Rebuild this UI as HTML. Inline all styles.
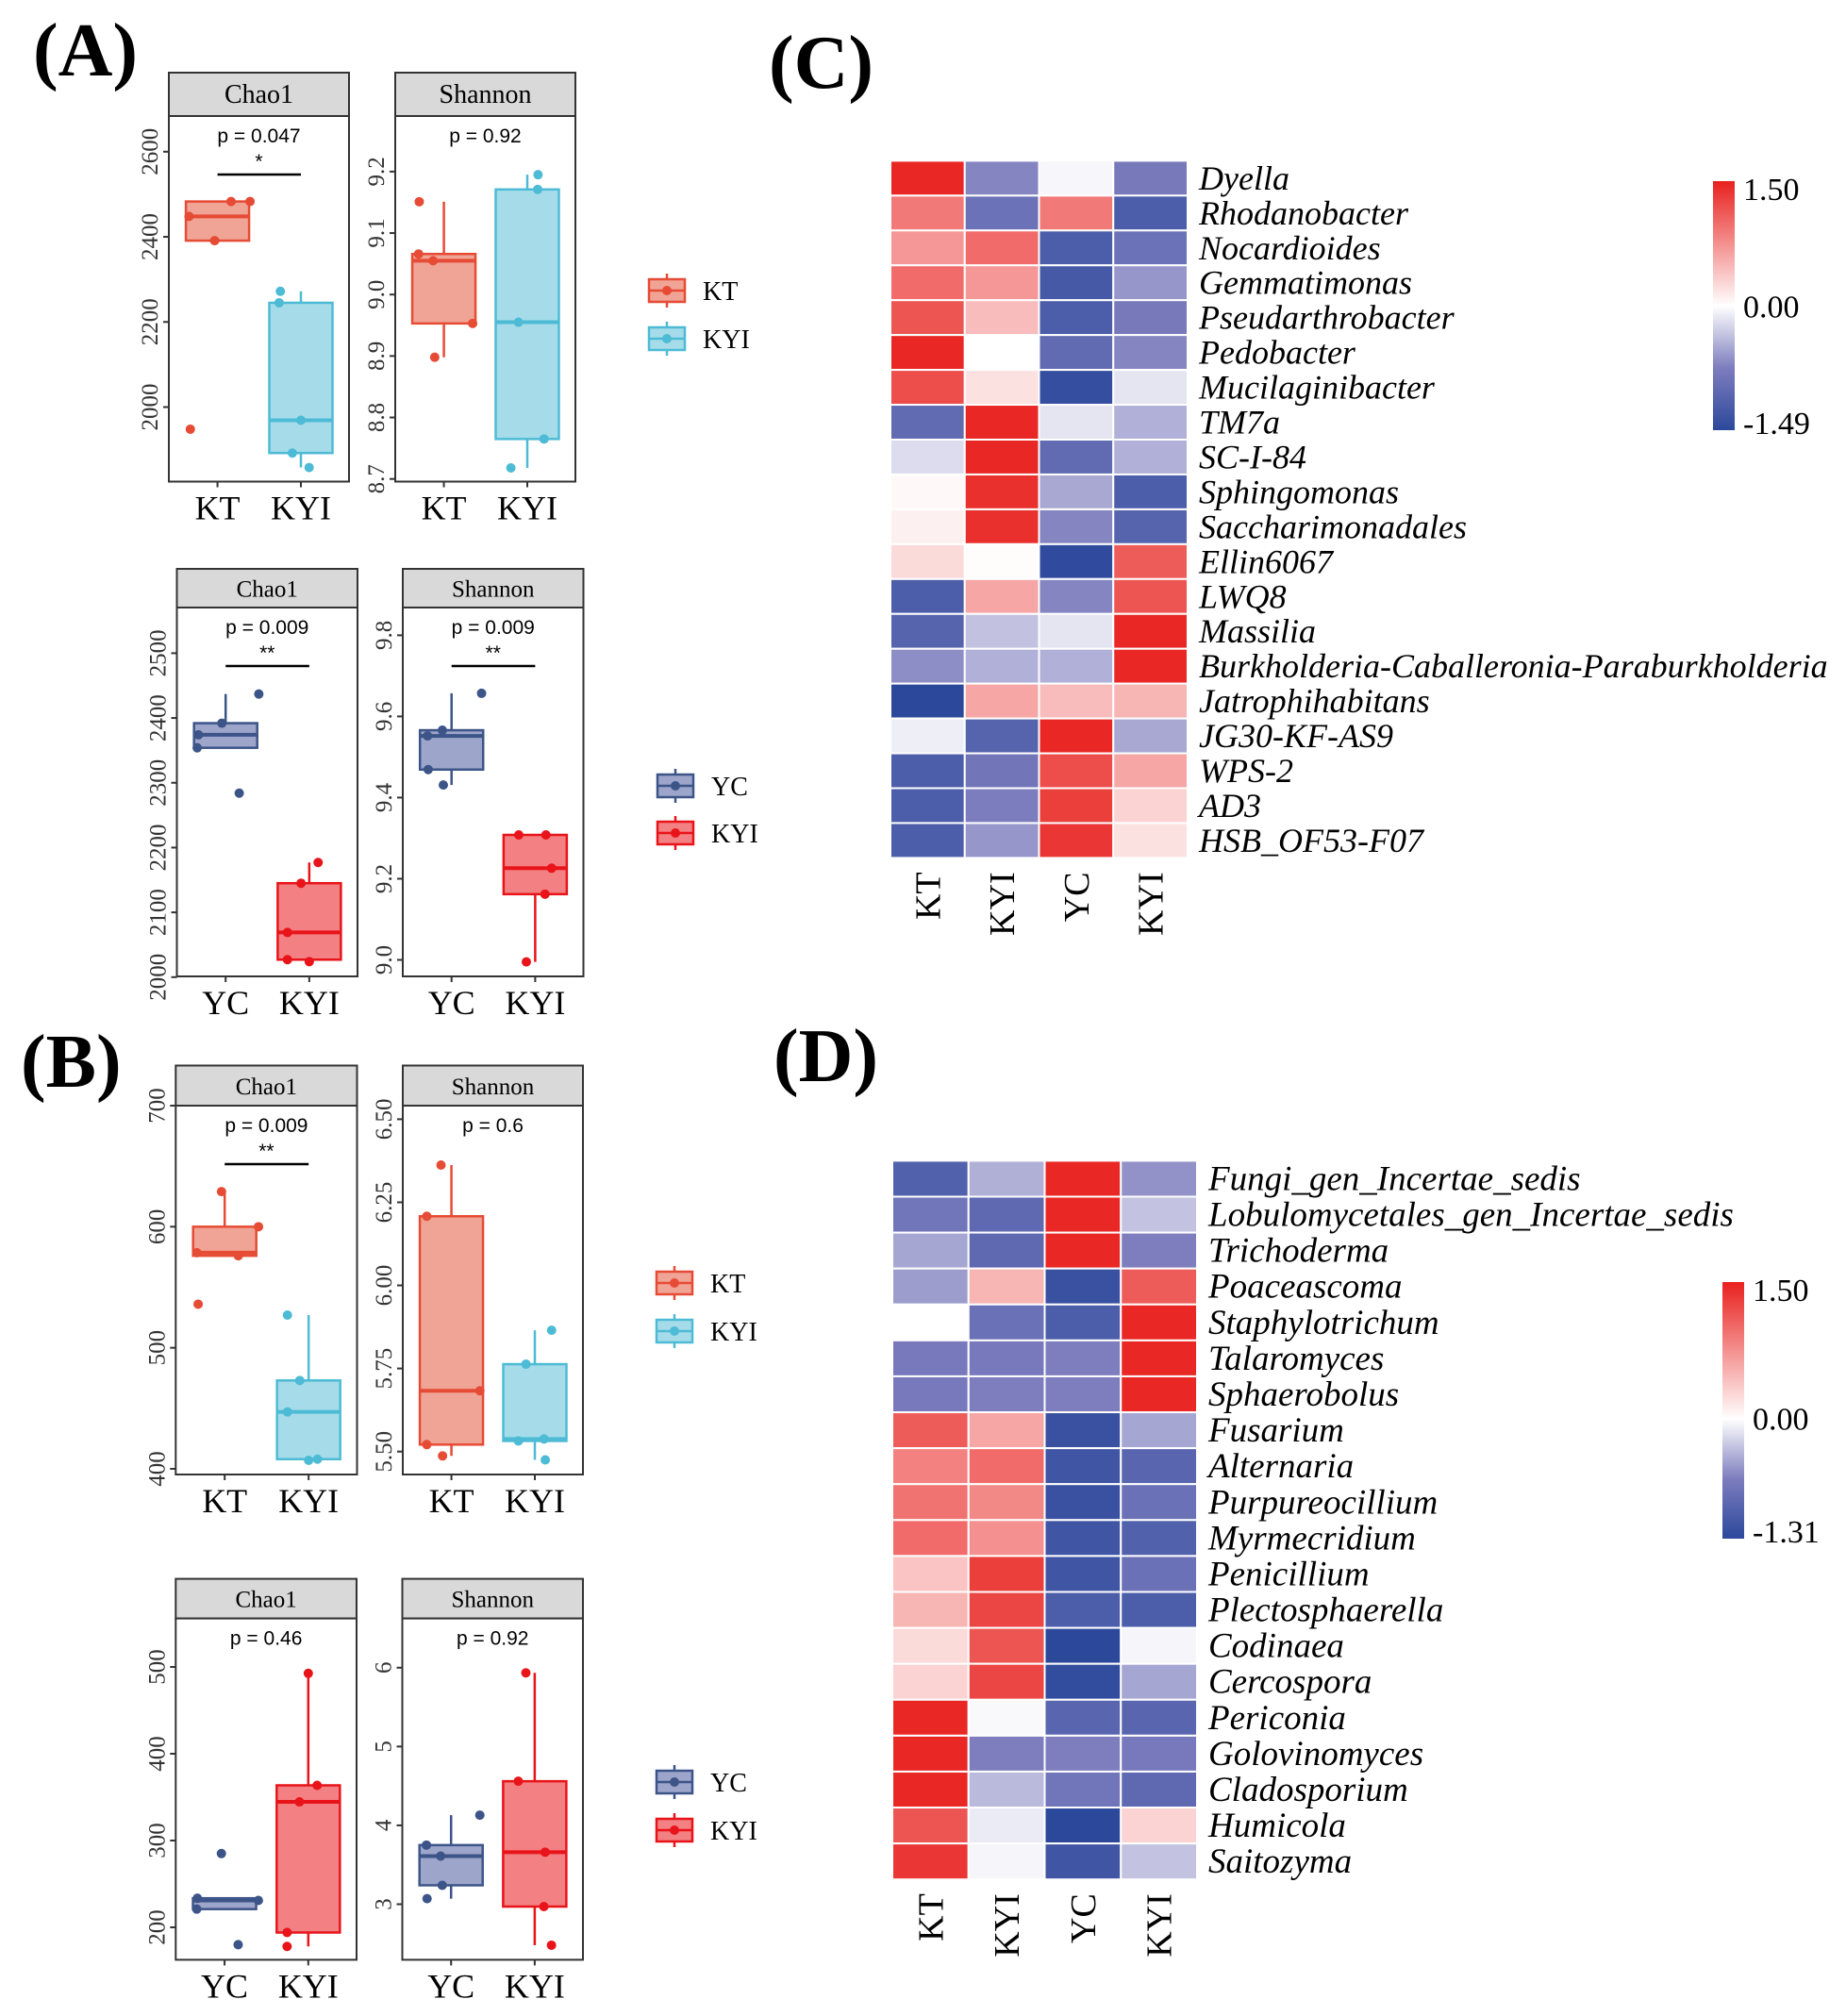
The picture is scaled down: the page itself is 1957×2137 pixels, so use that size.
<!DOCTYPE html>
<html><head><meta charset="utf-8"><style>
html,body{margin:0;padding:0;background:#fff;}
svg{display:block;}
</style></head><body>
<svg id="fig" xmlns="http://www.w3.org/2000/svg" width="1957" height="2137" viewBox="0 0 1957 2137">
<rect width="1957" height="2137" fill="#fff"/>
<g font-family="'Liberation Serif', serif" font-weight="bold" font-size="80" fill="#000">
<text x="35" y="80">(A)</text>
<text x="22" y="1152">(B)</text>
<text x="815" y="93">(C)</text>
<text x="820" y="1146">(D)</text>
</g>
<g id="boxes"></g>
<g id="heat"></g>
</svg>
<script>
// ---- Boxplot data (values, jitter) ----
const aTopChaoKT=[2448,2483,2483,2391,1948];
const aTopChaoKYI=[2272,2245,1969,1892,1858];
const aTopShKT=[9.151,9.066,9.055,8.953,8.898];
const aTopShKYI=[9.195,9.171,8.955,8.765,8.718];
const aBotChaoYC=[2437,2392,2374,2354,2284];
const aBotChaoKYI=[2177,2145,2069,2027,2024];
const aBotShYC=[9.657,9.566,9.552,9.469,9.431];
const aBotShKYI=[9.308,9.308,9.226,9.162,8.995];
const bTopChaoKT=[629,600,578.5,576,536];
const bTopChaoKYI=[527,473,447,407,408];
const bTopShKT=[6.362,6.208,5.683,5.521,5.487];
const bTopShKYI=[5.865,5.763,5.538,5.532,5.475];
const bBotChaoYC=[285,233.5,231,221,180];
const bBotChaoKYI=[492.6,363.6,344.5,194,178];
const bBotShYC=[4.13,3.75,3.61,3.24,3.07];
const bBotShKYI=[5.935,4.56,3.66,2.97,2.48];
const jitA=[-0.9,0.43,1.03,-0.09,-0.86], jitB=[-0.65,-0.69,0,-0.27,0.26];
const jitC=[-0.78,-0.8,-0.34,0.91,-0.29], jitD=[0.34,0.33,-0.28,0.53,-0.52];
const jitE=[1.05,-0.12,-0.86,-0.9,0.43], jitF=[0.28,-0.26,-0.69,-0.69,0];
const jitG=[0.95,-0.29,-0.76,-0.74,-0.26], jitH=[-0.52,0.34,0.52,0.31,-0.28];
const jitI=[-0.1,1.07,-0.88,0.43,-0.84], jitJ=[-0.67,-0.28,-0.67,0,0.28];
const jitK=[-0.33,-0.78,0.9,-0.78,-0.28], jitL=[0.53,-0.28,0.29,-0.52,0.33];
const jitM=[-0.1,-0.86,1.07,-0.88,0.43], jitN=[0,0.28,-0.28,-0.67,-0.67];
const jitO=[0.91,-0.78,-0.33,-0.28,-0.76], jitP=[-0.28,-0.52,0.33,0.29,0.53];
const ticksAChao1=[2000,2200,2400,2600], ticksASh1=[8.7,8.8,8.9,9.0,9.1,9.2];
const ticksAChao2=[2000,2100,2200,2300,2400,2500], ticksASh2=[9.0,9.2,9.4,9.6,9.8];
const ticksBChao1=[400,500,600,700], ticksBSh1=[5.5,5.75,6.0,6.25,6.5];
const ticksBChao2=[200,300,400,500], ticksBSh2=[3,4,5,6];

const NS="http://www.w3.org/2000/svg";
function mk(parent,tag,attrs,text){const e=document.createElementNS(NS,tag);for(const k in attrs)e.setAttribute(k,attrs[k]);if(text!==undefined)e.textContent=text;parent.appendChild(e);return e;}
const COL={KT:["#E64B35","#F0A496"],KYI1:["#4DBBD5","#A6DCE9"],YC:["#3C5488","#9DA5CA"],KYI2:["#E8141A","#F38082"]};
function q(s,p){const a=[...s].sort((x,y)=>x-y);const h=(a.length-1)*p,l=Math.floor(h);return a[l]+(a[Math.min(l+1,a.length-1)]-a[l])*(h-l);}
const boxes=document.getElementById('boxes');
function panel(cfg){
  const g=mk(boxes,'g',{});
  
  
  const x0=cfg.x0,x1=cfg.x1,w=x1-x0;
  const y=v=>cfg.r1y+(v-cfg.r1v)*(cfg.r2y-cfg.r1y)/(cfg.r2v-cfg.r1v);
  const strip=mk(g,'rect',{x:x0,y:cfg.st,width:w,height:cfg.sb-cfg.st,fill:'#D9D9D9',stroke:'#333','stroke-width':2});
  
  
  const st=mk(g,'text',{x:x0+w/2,y:cfg.sb-(cfg.sb-cfg.st)/2+9,'text-anchor':'middle','font-family':"'Liberation Serif', serif",'font-size':cfg.sf},cfg.title);
  
  
  mk(g,'rect',{x:x0,y:cfg.sb,width:w,height:cfg.pb-cfg.sb,fill:'#fff',stroke:'#333','stroke-width':2});
  cfg.ticks.forEach(t=>{
    const ty=y(t);
    mk(g,'line',{x1:x0-6,x2:x0,y1:ty,y2:ty,stroke:'#333','stroke-width':2});
    const tl=mk(g,'text',{transform:`translate(${x0-12},${ty}) rotate(-90)`,'text-anchor':'middle','font-family':"'Liberation Serif', serif",'font-size':25,fill:'#333'},cfg.fmt(t));
    
    
  });
  const cx=[x0+w*0.27,x0+w*0.733];
  const hw=33.5;
  cfg.groups.forEach((gr,i)=>{
    const d=gr.vals,c=COL[gr.col];
    const q1=q(d,0.25),md=q(d,0.5),q3=q(d,0.75),iqr=q3-q1;
    const ins=d.filter(v=>v>=q1-1.5*iqr&&v<=q3+1.5*iqr);
    const lo=Math.min(...ins),hi=Math.max(...ins);
    const bg=mk(g,'g',{});
    
    
    mk(bg,'line',{x1:cx[i],x2:cx[i],y1:y(hi),y2:y(q3),stroke:c[0],'stroke-width':2.5});
    mk(bg,'line',{x1:cx[i],x2:cx[i],y1:y(q1),y2:y(lo),stroke:c[0],'stroke-width':2.5});
    mk(bg,'rect',{x:cx[i]-hw,y:y(q3),width:2*hw,height:Math.max(1,y(q1)-y(q3)),fill:c[1],stroke:c[0],'stroke-width':2.5});
    mk(bg,'line',{x1:cx[i]-hw,x2:cx[i]+hw,y1:y(md),y2:y(md),stroke:c[0],'stroke-width':4});
    d.forEach((v,k)=>{
      const p=mk(bg,'circle',{cx:cx[i]+gr.jit[k]*hw,cy:y(v),r:5,fill:c[0]});
      
      
    });
    mk(g,'line',{x1:cx[i],x2:cx[i],y1:cfg.pb,y2:cfg.pb+6,stroke:'#333','stroke-width':2});
    const xl=mk(g,'text',{x:cx[i],y:cfg.pb+40,'text-anchor':'middle','font-family':"'Liberation Serif', serif",'font-size':36},gr.label);
    
    
  });
  const pt=mk(g,'text',{x:x0+w/2,y:cfg.sb+28,'text-anchor':'middle','font-family':"'Liberation Sans', sans-serif",'font-size':21},cfg.p);
  
  
  if(cfg.star){
    const s=mk(g,'text',{x:x0+w/2,y:cfg.sb+55,'text-anchor':'middle','font-family':"'Liberation Sans', sans-serif",'font-size':21},cfg.star);
    
    
    mk(g,'line',{x1:cx[0],x2:cx[1],y1:cfg.sb+62,y2:cfg.sb+62,stroke:'#000','stroke-width':2.5});
  }
}
function legend(x,y1,y2,k1,k2,l1,l2,name){
  const g=mk(boxes,'g',{});
  
  
  [[y1,k1,l1],[y2,k2,l2]].forEach(([yy,k,l])=>{
    const c=COL[k];
    const e=mk(g,'g',{});
    
    
    mk(e,'line',{x1:x+19,x2:x+19,y1:yy-18,y2:yy+18,stroke:c[0],'stroke-width':2.5});
    mk(e,'rect',{x:x,y:yy-12,width:38,height:24,fill:c[1],stroke:c[0],'stroke-width':2.5});
    mk(e,'line',{x1:x,x2:x+38,y1:yy,y2:yy,stroke:c[0],'stroke-width':2.5});
    mk(e,'circle',{cx:x+19,cy:yy,r:5,fill:c[0]});
    mk(e,'text',{x:x+57,y:yy+10,'font-family':"'Liberation Serif', serif",'font-size':28},l);
  });
}
const f0=v=>String(v), f1=v=>v.toFixed(1), f2=v=>v.toFixed(2);
panel({name:'a-chao1-kt-kyi',x0:179,x1:370,st:77,sb:123,pb:510.5,r1v:2600,r1y:160.8,r2v:2000,r2y:431.5,ticks:ticksAChao1,fmt:f0,title:'Chao1',sf:28,p:'p = 0.047',star:'*',groups:[{label:'KT',col:'KT',vals:aTopChaoKT,jit:jitA},{label:'KYI',col:'KYI1',vals:aTopChaoKYI,jit:jitB}]});
panel({name:'a-shannon-kt-kyi',x0:419,x1:610,st:77,sb:123,pb:510.5,r1v:9.2,r1y:181.9,r2v:8.7,r2y:507.7,ticks:ticksASh1,fmt:f1,title:'Shannon',sf:28,p:'p = 0.92',groups:[{label:'KT',col:'KT',vals:aTopShKT,jit:jitC},{label:'KYI',col:'KYI1',vals:aTopShKYI,jit:jitD}]});
legend(688,308,359,'KT','KYI1','KT','KYI','legend-a-top');
panel({name:'a-chao1-yc-kyi',x0:187.5,x1:379,st:603,sb:644,pb:1035,r1v:2500,r1y:692.4,r2v:2000,r2y:1035.8,ticks:ticksAChao2,fmt:f0,title:'Chao1',sf:25,p:'p = 0.009',star:'**',groups:[{label:'YC',col:'YC',vals:aBotChaoYC,jit:jitE},{label:'KYI',col:'KYI2',vals:aBotChaoKYI,jit:jitF}]});
panel({name:'a-shannon-yc-kyi',x0:427,x1:618.5,st:603,sb:644,pb:1035,r1v:9.8,r1y:673.4,r2v:9.0,r2y:1017.5,ticks:ticksASh2,fmt:f1,title:'Shannon',sf:25,p:'p = 0.009',star:'**',groups:[{label:'YC',col:'YC',vals:aBotShYC,jit:jitG},{label:'KYI',col:'KYI2',vals:aBotShKYI,jit:jitH}]});
legend(697,833,883,'YC','KYI2','YC','KYI','legend-a-bottom');
panel({name:'b-chao1-kt-kyi',x0:186.3,x1:378.5,st:1129.5,sb:1172,pb:1563,r1v:700,r1y:1172,r2v:400,r2y:1557,ticks:ticksBChao1,fmt:f0,title:'Chao1',sf:25,p:'p = 0.009',star:'**',groups:[{label:'KT',col:'KT',vals:bTopChaoKT,jit:jitI},{label:'KYI',col:'KYI1',vals:bTopChaoKYI,jit:jitJ}]});
panel({name:'b-shannon-kt-kyi',x0:427,x1:618,st:1129.5,sb:1172,pb:1563,r1v:6.5,r1y:1186.4,r2v:5.5,r2y:1538.7,ticks:ticksBSh1,fmt:f2,title:'Shannon',sf:25,p:'p = 0.6',groups:[{label:'KT',col:'KT',vals:bTopShKT,jit:jitK},{label:'KYI',col:'KYI1',vals:bTopShKYI,jit:jitL}]});
legend(696,1360,1411,'KT','KYI1','KT','KYI','legend-b-top');
panel({name:'b-chao1-yc-kyi',x0:186.3,x1:378,st:1673.6,sb:1715.6,pb:2077.4,r1v:500,r1y:1767,r2v:200,r2y:2043,ticks:ticksBChao2,fmt:f0,title:'Chao1',sf:25,p:'p = 0.46',groups:[{label:'YC',col:'YC',vals:bBotChaoYC,jit:jitM},{label:'KYI',col:'KYI2',vals:bBotChaoKYI,jit:jitN}]});
panel({name:'b-shannon-yc-kyi',x0:426.5,x1:618,st:1673.6,sb:1715.6,pb:2077.4,r1v:6,r1y:1767.8,r2v:3,r2y:2018.5,ticks:ticksBSh2,fmt:f0,title:'Shannon',sf:25,p:'p = 0.92',groups:[{label:'YC',col:'YC',vals:bBotShYC,jit:jitO},{label:'KYI',col:'KYI2',vals:bBotShKYI,jit:jitP}]});
legend(696,1889,1940,'YC','KYI2','YC','KYI','legend-b-bottom');

// ---- Heatmap data ----
const heatCols=['KT','KYI','YC','KYI'];
const cRows=['Dyella','Rhodanobacter','Nocardioides','Gemmatimonas','Pseudarthrobacter','Pedobacter','Mucilaginibacter','TM7a','SC-I-84','Sphingomonas','Saccharimonadales','Ellin6067','LWQ8','Massilia','Burkholderia-Caballeronia-Paraburkholderia','Jatrophihabitans','JG30-KF-AS9','WPS-2','AD3','HSB_OF53-F07'];
const cKT=[1.45,0.9,0.7,1.0,1.15,1.45,1.2,-1.0,-0.2,0.05,0.1,0.25,-1.2,-1.1,-0.65,-1.49,-0.1,-1.2,-1.2,-1.2];
const cKYI1=[-0.7,-0.9,1.0,0.7,0.45,0.0,0.2,1.45,1.45,1.4,1.4,0.02,0.6,-0.35,-0.45,0.6,-1.1,-0.85,-0.75,-0.6];
const cYC=[-0.05,0.9,-1.2,-1.25,-1.2,-1.0,-1.4,-0.15,-1.0,-0.5,-0.7,-1.45,-0.7,-0.15,-0.45,0.45,1.45,1.2,1.3,1.35];
const cKYI2=[-0.8,-1.2,-0.9,-0.6,-0.8,-0.7,-0.15,-0.45,-0.45,-1.2,-1.1,1.1,1.15,1.45,1.45,0.5,-0.5,0.6,0.3,0.2];
const dRows=['Fungi_gen_Incertae_sedis','Lobulomycetales_gen_Incertae_sedis','Trichoderma','Poaceascoma','Staphylotrichum','Talaromyces','Sphaerobolus','Fusarium','Alternaria','Purpureocillium','Myrmecridium','Penicillium','Plectosphaerella','Codinaea','Cercospora','Periconia','Golovinomyces','Cladosporium','Humicola','Saitozyma'];
const dKT=[-1.0,-0.75,-0.45,-0.5,0.0,-0.7,-0.7,1.1,0.85,0.95,1.0,0.4,0.5,0.25,0.3,1.45,1.45,1.45,1.15,1.35];
const dKYI1=[-0.4,-0.9,-0.9,0.5,-0.8,-0.7,-0.65,0.6,1.0,0.8,0.75,1.3,1.25,1.15,1.25,-0.03,-0.65,-0.35,-0.1,-0.05];
const dYC=[1.45,1.45,1.45,-1.2,-1.05,-0.65,-0.65,-1.2,-1.15,-1.2,-1.15,-1.15,-1.05,-1.31,-1.25,-0.95,-0.65,-0.75,-1.31,-1.15];
const dKYI2=[-0.55,-0.3,-0.65,1.1,1.45,1.45,1.45,-0.45,-0.95,-0.8,-1.0,-0.8,-1.05,-0.05,-0.45,-0.95,-0.7,-0.9,0.3,-0.3];
const cLegendTicks=['1.50','0.00','-1.49'], dLegendTicks=['1.50','0.00','-1.31'];

const heat=document.getElementById('heat');
function lerp(a,b,t){return a.map((v,i)=>Math.round(v+(b[i]-v)*t));}
function color(v,mn,mx){
  const R=[232,33,30],B=[44,72,155],W=[255,255,255],BM=[125,125,190];
  let c;
  if(v>=0){c=lerp(W,R,Math.min(1,v/mx));}
  else{const t=Math.min(1,v/mn); c=t<0.5?lerp(W,BM,t/0.5):lerp(BM,B,(t-0.5)/0.5);}
  return `rgb(${c.join(',')})`;
}
function heatmap(cfg){
  const g=mk(heat,'g',{});
  
  
  const cw=(cfg.x1-cfg.x0)/4, rh=(cfg.y1-cfg.y0)/cfg.rows.length;
  cfg.series.forEach((ser,j)=>{
    ser.forEach((v,i)=>{
      const r=mk(g,'rect',{x:cfg.x0+j*cw,y:cfg.y0+i*rh,width:cw,height:rh,fill:color(v,cfg.mn,cfg.mx),stroke:'#fff','stroke-width':2});
      
      
    });
  });
  cfg.rows.forEach((n,i)=>{
    const t=mk(g,'text',{x:cfg.x1+12,y:cfg.y0+(i+0.5)*rh+12,'font-family':"'Liberation Serif', serif",'font-style':'italic','font-size':cfg.fs},n);
    
    
  });
  heatCols.forEach((n,j)=>{
    const t=mk(g,'text',{transform:`translate(${cfg.x0+(j+0.5)*cw+13},${cfg.y1+15}) rotate(-90)`,'text-anchor':'end','font-family':"'Liberation Serif', serif",'font-size':38},n);
    
    
  });
  const id='grad-'+cfg.name;
  const defs=mk(g,'defs',{});
  const lg=mk(defs,'linearGradient',{id:id,x1:0,y1:0,x2:0,y2:1});
  const z=cfg.mx/(cfg.mx-cfg.mn);
  mk(lg,'stop',{offset:0,'stop-color':'rgb(232,33,30)'});
  mk(lg,'stop',{offset:z,'stop-color':'#fff'});
  mk(lg,'stop',{offset:z+(1-z)/2,'stop-color':'rgb(125,125,190)'});
  mk(lg,'stop',{offset:1,'stop-color':'rgb(44,72,155)'});
  const cb=mk(g,'rect',{x:cfg.cbx,y:cfg.cby0,width:23,height:cfg.cby1-cfg.cby0,fill:`url(#${id})`});
  
  
  const lv=[cfg.mx,0,cfg.mn];
  cfg.ticks.forEach((t,k)=>{
    const yy=cfg.cby0+8+(cfg.mx-lv[k])/(cfg.mx-cfg.mn)*(cfg.cby1-cfg.cby0-16);
    const tt=mk(g,'text',{x:cfg.cbx+32,y:yy+12,'font-family':"'Liberation Serif', serif",'font-size':34},t);
    
    
  });
}
heatmap({name:'heatmap-c',x0:944,x1:1259,y0:170.4,y1:909.4,rows:cRows,series:[cKT,cKYI1,cYC,cKYI2],mn:-1.49,mx:1.5,fs:36,cbx:1816,cby0:192,cby1:456,ticks:cLegendTicks});
heatmap({name:'heatmap-d',x0:946,x1:1269,y0:1230.4,y1:1992.2,rows:dRows,series:[dKT,dKYI1,dYC,dKYI2],mn:-1.31,mx:1.5,fs:37,cbx:1826,cby0:1359,cby1:1631,ticks:dLegendTicks});
</script>
</body></html>
